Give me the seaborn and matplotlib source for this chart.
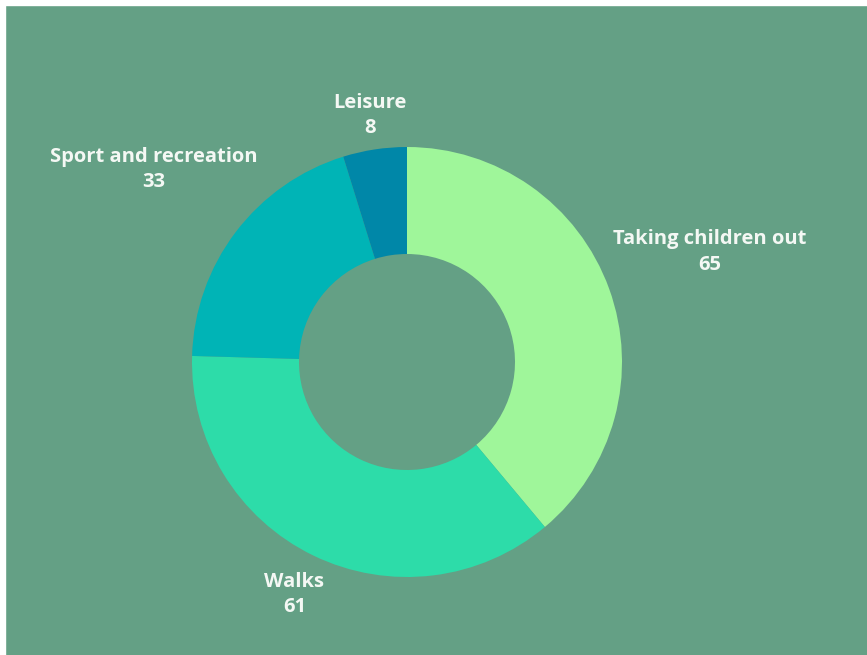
import numpy as np
import matplotlib
matplotlib.use("Agg")
import matplotlib.pyplot as plt
import seaborn as sns

labels = ["Taking children out", "Walks", "Sport and recreation", "Leisure"]
values = [65, 61, 33, 8]
colors = ["#9ff69a", "#2ddca9", "#00b4b6", "#0087a8"]
label_dist = [1.50, 1.20, 1.48, 1.16]

bg = "#64a085"

sns.set_theme(style="white")
plt.rcParams["font.family"] = ["Open Sans", "DejaVu Sans"]

fig = plt.figure(figsize=(8.67, 6.55), dpi=100, facecolor=bg)
ax = fig.add_axes([0, 0, 1, 1])
ax.set_facecolor(bg)

R = 215
wedges, _ = ax.pie(values, colors=sns.color_palette(colors), startangle=90,
                   counterclock=False, radius=R,
                   wedgeprops=dict(width=107, edgecolor="none"))

for w, lab, val, d in zip(wedges, labels, values, label_dist):
    ang = np.deg2rad((w.theta1 + w.theta2) / 2)
    x = np.cos(ang) * R * d
    y = np.sin(ang) * R * d
    ax.text(x, y, f"{lab}\n{val}", ha="center", va="center", color="#f4f8f4",
            fontsize=14.5, fontweight="bold", linespacing=1.35)

ax.set_xlim(-407, 867 - 407)
ax.set_ylim(-(655 - 362), 362)
ax.set_aspect("equal")
ax.axis("off")

# thin white frame at the top and left edges
fig.patches.append(plt.Rectangle((0, 0), 5 / 867, 1, transform=fig.transFigure,
                                 color="white", zorder=10))
fig.patches.append(plt.Rectangle((0, 1 - 5 / 655), 1, 5 / 655, transform=fig.transFigure,
                                 color="white", zorder=10))

fig.savefig("out.png", dpi=100, facecolor=bg)
